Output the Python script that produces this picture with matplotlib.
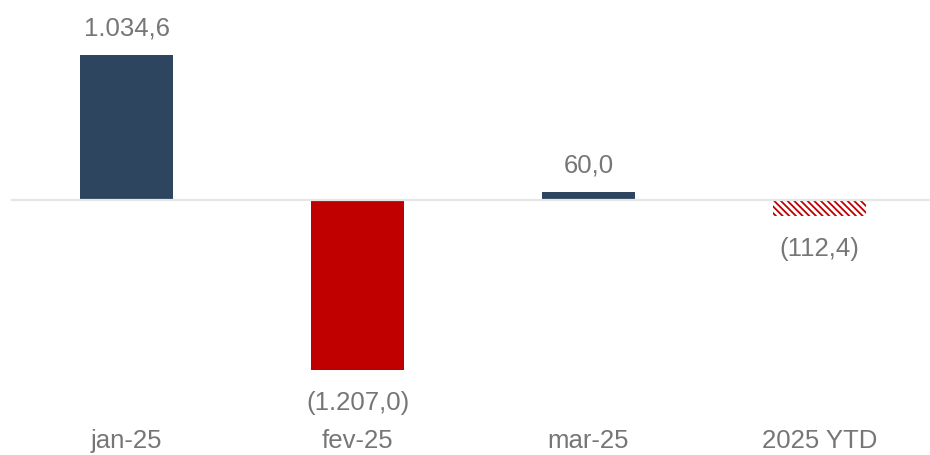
import matplotlib
matplotlib.use('Agg')
import matplotlib.pyplot as plt

# data
months = ['jan-25', 'fev-25', 'mar-25', '2025 YTD']
values = [1034.6, -1207.0, 60.0, -112.4]
labels = ['1.034,6', '(1.207,0)', '60,0', '(112,4)']

navy = '#2E4560'
red = '#C00000'
gray = '#767676'

plt.rcParams['font.family'] = ['Liberation Sans', 'DejaVu Sans']
plt.rcParams['hatch.linewidth'] = 1.3

fig = plt.figure(figsize=(9.30, 4.55), dpi=100)
# axes in pixel terms: left 11, right 935, top 10, bottom 420
ax = fig.add_axes([11 / 930, 35 / 455, 924 / 930, 410 / 455])

px_per_unit = 0.1405
ax.set_xlim(-0.5, 3.5)
ax.set_ylim(-(420 - 200) / px_per_unit, (200 - 10) / px_per_unit)

x = list(range(len(months)))
colors = [navy, red, navy, 'white']
bars = ax.bar(x, values, width=0.4, color=colors, linewidth=0, zorder=2)
# last bar is hatched (YTD)
bars[-1].set_hatch('\\' * 5)
bars[-1].set_edgecolor(red)
bars[-1].set_linewidth(0)

ax.axhline(0, color='#e6e6e6', linewidth=1.6, zorder=3)

# value labels
for xi, v, lab in zip(x, values, labels):
    off = 13.5 if v > 0 else -29
    ax.annotate(lab, (xi, v), xytext=(0, off), textcoords='offset points',
                ha='center', va='baseline', fontsize=18.5, color=gray)

ax.set_xticks(x)
ax.set_xticklabels(months, fontsize=18.5, color=gray)
ax.tick_params(axis='x', length=0, pad=6.5)
ax.set_yticks([])
for s in ax.spines.values():
    s.set_visible(False)

fig.savefig('out.png', dpi=100)
